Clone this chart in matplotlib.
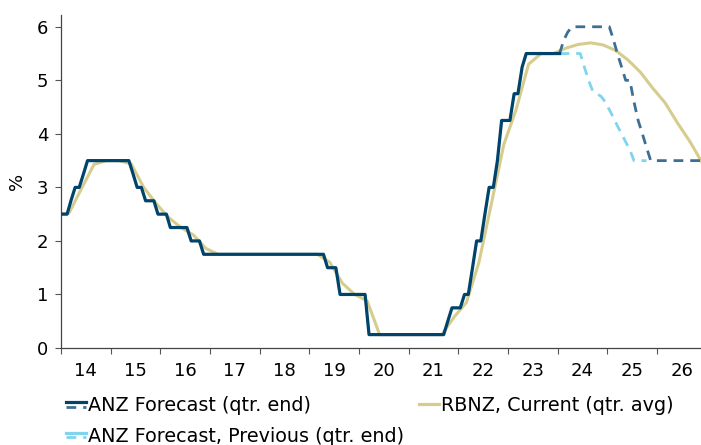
import matplotlib
matplotlib.use("Agg")
import matplotlib.pyplot as plt
import matplotlib.dates as mdates
from matplotlib.legend_handler import HandlerBase
from matplotlib.lines import Line2D
import pandas as pd

# ANZ OCR, monthly (mid-month), Jan 2014 - Jan 2024
anz_hist = [
    2.5, 2.5, 2.75, 3.0, 3.0, 3.25, 3.5, 3.5, 3.5, 3.5, 3.5, 3.5,        # 2014
    3.5, 3.5, 3.5, 3.5, 3.5, 3.25, 3.0, 3.0, 2.75, 2.75, 2.75, 2.5,      # 2015
    2.5, 2.5, 2.25, 2.25, 2.25, 2.25, 2.25, 2.0, 2.0, 2.0, 1.75, 1.75,   # 2016
    1.75, 1.75, 1.75, 1.75, 1.75, 1.75, 1.75, 1.75, 1.75, 1.75, 1.75, 1.75,  # 2017
    1.75, 1.75, 1.75, 1.75, 1.75, 1.75, 1.75, 1.75, 1.75, 1.75, 1.75, 1.75,  # 2018
    1.75, 1.75, 1.75, 1.75, 1.5, 1.5, 1.5, 1.0, 1.0, 1.0, 1.0, 1.0,      # 2019
    1.0, 1.0, 0.25, 0.25, 0.25, 0.25, 0.25, 0.25, 0.25, 0.25, 0.25, 0.25,  # 2020
    0.25, 0.25, 0.25, 0.25, 0.25, 0.25, 0.25, 0.25, 0.25, 0.5, 0.75, 0.75,  # 2021
    0.75, 1.0, 1.0, 1.5, 2.0, 2.0, 2.5, 3.0, 3.0, 3.5, 4.25, 4.25,       # 2022
    4.25, 4.75, 4.75, 5.25, 5.5, 5.5, 5.5, 5.5, 5.5, 5.5, 5.5, 5.5,      # 2023
    5.5,                                                                  # 2024
]

# ANZ forecast, monthly from Jan 2024
anz_fcst = [
    5.5, 5.75, 5.9, 6.0, 6.0, 6.0, 6.0, 6.0, 6.0, 6.0, 6.0, 6.0,         # 2024
    6.0, 5.75, 5.5, 5.25, 5.0, 5.0, 4.6, 4.25, 4.0, 3.75, 3.5, 3.5,      # 2025
    3.5, 3.5, 3.5, 3.5, 3.5, 3.5, 3.5, 3.5, 3.5, 3.5, 3.5, 3.5,          # 2026
]

# ANZ previous forecast, monthly from Jan 2024
anz_prev = [
    5.5, 5.5, 5.5, 5.5, 5.5, 5.5, 5.25, 5.0, 4.8, 4.75, 4.7, 4.6,        # 2024
    4.45, 4.3, 4.15, 4.0, 3.85, 3.7, 3.5, 3.5, 3.5, 3.5,                 # 2025
]

# RBNZ quarterly average, 2013Q4 - 2026Q4
rbnz = [
    2.5,
    2.52, 2.98, 3.43, 3.5,
    3.5, 3.44, 3.0, 2.70,
    2.44, 2.25, 2.11, 1.86,
    1.75, 1.75, 1.75, 1.75,
    1.75, 1.75, 1.75, 1.75,
    1.75, 1.60, 1.21, 1.0,
    0.88, 0.25, 0.25, 0.25,
    0.25, 0.25, 0.25, 0.58,
    0.85, 1.6, 2.7, 3.8,
    4.45, 5.3, 5.5, 5.5,
    5.6, 5.67, 5.7, 5.66,
    5.56, 5.38, 5.15, 4.85,
    4.58, 4.2, 3.85, 3.45,
]

half_month = pd.Timedelta(days=14)
d_hist = pd.date_range("2014-01-01", periods=len(anz_hist), freq="MS") + half_month
d_fcst = pd.date_range("2024-01-01", periods=len(anz_fcst), freq="MS") + half_month
d_prev = pd.date_range("2024-01-01", periods=len(anz_prev), freq="MS") + half_month
d_rbnz = pd.date_range("2013-10-01", periods=len(rbnz), freq="QS") + pd.DateOffset(months=2)

c_navy = "#00436b"
c_dash = "#3d6f94"
c_light = "#7fd4ee"
c_tan = "#d6cc8e"


class TwoLineHandler(HandlerBase):
    def create_artists(self, legend, orig_handle, xdescent, ydescent,
                       width, height, fontsize, trans):
        top, bottom = orig_handle
        ym = (height - ydescent) / 2.0
        xs = [-xdescent, width - xdescent]
        out = []
        for src, off in ((top, 1.6), (bottom, -1.6)):
            ln = Line2D(xs, [ym + off, ym + off])
            ln.update_from(src)
            ln.set_transform(trans)
            out.append(ln)
        return out


plt.rcParams["font.family"] = "DejaVu Sans"
fig = plt.figure(figsize=(7.01, 4.45), dpi=100)
ax = fig.add_axes([61 / 701, 97 / 445, 640 / 701, 333 / 445])

ax.plot(d_rbnz, rbnz, color=c_tan, lw=2.2, zorder=1, solid_joinstyle="round")
ax.plot(d_prev, anz_prev, color=c_light, lw=2.0, ls=(0, (3.5, 2.5)), zorder=2)
ax.plot(d_fcst, anz_fcst, color=c_dash, lw=2.0, ls=(0, (3.5, 2.5)), zorder=3)
ax.plot(d_hist, anz_hist, color=c_navy, lw=2.3, zorder=4)

ax.set_xlim(pd.Timestamp("2014-01-01"), pd.Timestamp("2026-11-20"))
ax.set_ylim(0, 6.22)
ax.set_yticks([0, 1, 2, 3, 4, 5, 6])

ax.xaxis.set_major_locator(mdates.YearLocator())
ax.xaxis.set_major_formatter(plt.NullFormatter())
ax.xaxis.set_minor_locator(mdates.MonthLocator(bymonth=7))
ax.xaxis.set_minor_formatter(mdates.DateFormatter("%y"))
ax.tick_params(axis="x", which="major", length=4, width=0.8, color="#555555")
ax.tick_params(axis="x", which="minor", length=0, pad=10, labelsize=13)
ax.tick_params(axis="y", length=4, width=0.8, color="#555555", pad=5, labelsize=13)

for s in ("top", "right"):
    ax.spines[s].set_visible(False)
for s in ("left", "bottom"):
    ax.spines[s].set_color("#444444")
    ax.spines[s].set_linewidth(0.9)

ax.set_ylabel("%", fontsize=13, labelpad=8)

h_anz = (Line2D([], [], color=c_navy, lw=2.3), Line2D([], [], color=c_dash, lw=2.0, ls=(0, (3.5, 2.5))))
h_prev = (Line2D([], [], color=c_light, lw=2.3), Line2D([], [], color=c_light, lw=2.0, ls=(0, (3.5, 2.5))))
h_rbnz = Line2D([], [], color=c_tan, lw=2.3)

fig.legend([h_anz, h_prev, h_rbnz],
           ["ANZ Forecast (qtr. end)", "ANZ Forecast, Previous (qtr. end)", "RBNZ, Current (qtr. avg)"],
           handler_map={tuple: TwoLineHandler()},
           ncol=2, loc="upper left", bbox_to_anchor=(66 / 701, 1 - 396 / 445),
           frameon=False, fontsize=13.8, handlelength=1.05, handletextpad=0.12,
           columnspacing=0.75, labelspacing=0.6, borderpad=0, borderaxespad=0)

fig.savefig("out.png", dpi=100)
